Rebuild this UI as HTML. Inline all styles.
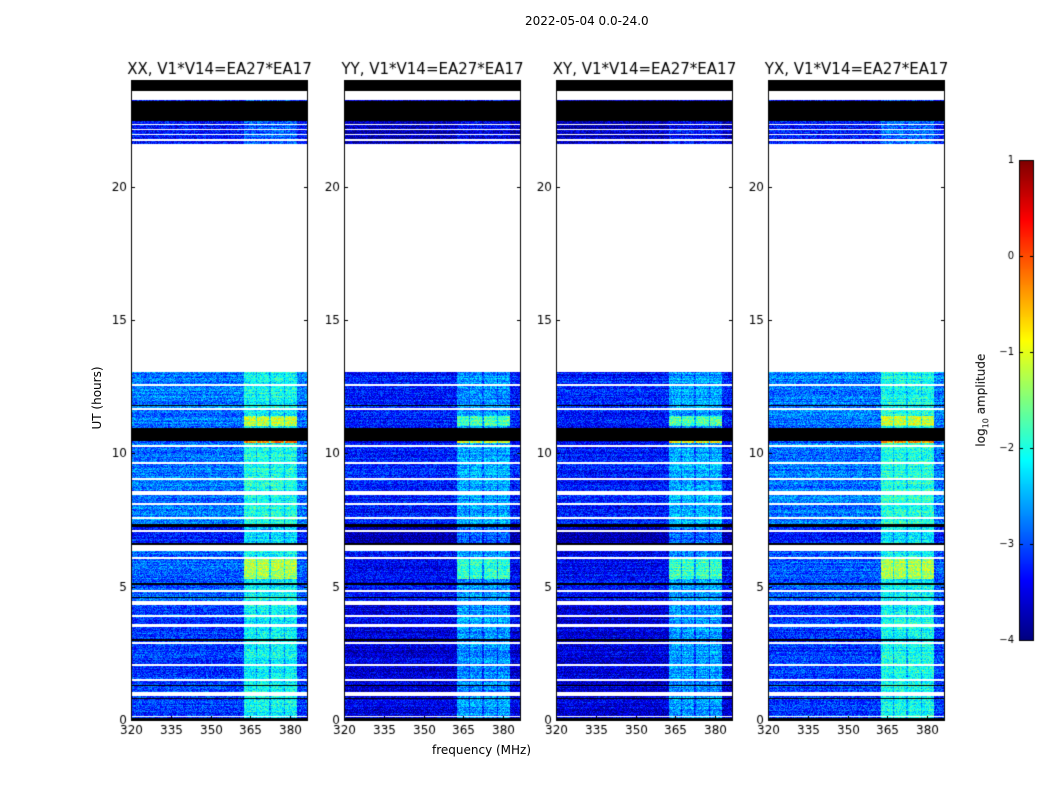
<!DOCTYPE html>
<html><head><meta charset="utf-8"><style>
body{margin:0;background:#fff;}
#wrap{position:relative;width:1050px;height:800px;overflow:hidden;font-family:"DejaVu Sans","Liberation Sans",sans-serif;color:#000;}
canvas{position:absolute;left:0;top:0;}
.t{position:absolute;white-space:nowrap;}
</style></head><body>
<div id="wrap">
<canvas id="c" width="1050" height="800"></canvas>
<div class="t" style="left:525px;top:14px;font-size:12px;">2022-05-04 0.0-24.0</div>
<div class="t" style="left:62px;top:391px;font-size:12px;transform:rotate(-90deg);width:70px;text-align:center;">UT (hours)</div>
<div class="t" style="left:432px;top:743px;font-size:12px;">frequency (MHz)</div>
<div class="t" style="left:932px;top:392px;font-size:12px;transform:rotate(-90deg);width:100px;text-align:center;">log<sub style="font-size:8px">10</sub> amplitude</div>
</div>
<script>
const panelTitles=["XX, V1*V14=EA27*EA17","YY, V1*V14=EA27*EA17","XY, V1*V14=EA27*EA17","YX, V1*V14=EA27*EA17"];
const panelLeft=[131,344,556,768];
const yTicks=[0,5,10,15,20];
const xTicks=[320,335,350,365,380];
const cbTicks=[1,0,-1,-2,-3,-4];
// flagged intervals (hours)
const whiteStart=[13.06,23.25,21.72,21.92,22.12,22.30,12.53,11.63,10.25,9.60,9.00,8.45,8.06,7.55,7.06,6.35,6.04,4.80,4.30,3.88,3.50,2.86,2.02,1.46,0.90,0.10];
const whiteEnd  =[21.60,23.60,21.78,21.98,22.18,22.36,12.61,11.70,10.31,9.67,9.07,8.60,8.13,7.62,7.13,6.55,6.11,4.87,4.45,3.94,3.60,2.93,2.09,1.53,1.05,0.15];
const blackStart=[23.60,22.45,10.47,11.77,7.24,6.57,5.07,4.58,2.97,1.27,0.78,0.00];
const blackEnd  =[24.00,23.20,10.96,11.83,7.36,6.63,5.12,4.62,3.03,1.33,0.83,0.08];
// level blocks (hours) : base level and band level
const blkStart=[0,4.45,5.3,6.6,7.3,10.38,10.96,11.03,11.4,21.6];
const blkEnd  =[4.3,6.6,6.1,7.3,10.38,10.47,11.03,11.4,13.06,23.6];
const blkBase =[-3.1,-2.9,-2.9,-3.3,-2.8,-3.0,-2.9,-2.8,-2.8,-3.3];
const blkBand =[-2.1,-2.1,-1.3,-2.3,-2.0,-0.3,-2.1,-1.2,-2.1,-2.9];
// per-panel offsets
const panelBaseOff=[0,-0.45,-0.45,0];
const panelBandOff=[0,-0.55,-0.5,0.05];
// channel bands (MHz)
const bandLo=[362.6,367.5,372.8,378.0];
const bandHi=[366.8,372.0,377.4,382.6];

const cv=document.getElementById('c'),ctx=cv.getContext('2d');
const W=177,H=640,TOP=80;
const hy=h=>TOP+H-h*H/24;
const fx=(l,f)=>l+(f-320)*2.65;
function jet(t){t=Math.max(0,Math.min(1,t));
 const r=Math.max(0,Math.min(1,1.5-Math.abs(4*t-3))),g=Math.max(0,Math.min(1,1.5-Math.abs(4*t-2))),b=Math.max(0,Math.min(1,1.5-Math.abs(4*t-1)));
 return [r*255|0,g*255|0,b*255|0];}
function hsh(a,b){let x=(a*374761393+b*668265263)|0;x=(x^(x>>>13))*1274126177|0;return ((x^(x>>>16))>>>0)/4294967296;}
function inI(h,s,e){for(let i=0;i<s.length;i++)if(h>=s[i]&&h<e[i])return true;return false;}
panelLeft.forEach((L,p)=>{
 const img=ctx.createImageData(W,H);
 for(let py=0;py<H;py++){
  const h=(H-py-0.5)*24/H;
  let mode='w',bi=-1;
  if(inI(h,blackStart,blackEnd))mode='k';
  else if(inI(h,whiteStart,whiteEnd))mode='w';
  else{for(let i=blkStart.length-1;i>=0;i--)if(h>=blkStart[i]&&h<blkEnd[i]){bi=i;break;}
   mode=bi>=0?'d':'w';}
  const rowN=(hsh(py,p*7+3)-0.5)*0.4;
  for(let px=0;px<W;px++){
   const k=(py*W+px)*4;let c;
   if(mode==='k')c=[0,0,0];else if(mode==='w')c=[255,255,255];
   else{const f=320+px/2.65;let inb=false;
    for(let j=0;j<bandLo.length;j++)if(f>=bandLo[j]&&f<bandHi[j])inb=true;
    let v=blkBase[bi]+panelBaseOff[p];
    if(f>=362.6&&f<382.6)v=inb?blkBand[bi]+panelBandOff[p]:(blkBand[bi]+blkBase[bi])/2+panelBandOff[p];
    v+=(hsh(px+p*1000,py)-0.5)*0.9+rowN;
    c=jet((v+4)/5);}
   img.data[k]=c[0];img.data[k+1]=c[1];img.data[k+2]=c[2];img.data[k+3]=255;}
 }
 ctx.putImageData(img,L,TOP);
 ctx.strokeStyle='#000';ctx.lineWidth=1;ctx.strokeRect(L+0.5,TOP+0.5,W-1,H);
 ctx.fillStyle='#000';ctx.font='12px "DejaVu Sans",sans-serif';
 ctx.textAlign='right';ctx.textBaseline='middle';
 yTicks.forEach(t=>{const y=Math.round(hy(t))+0.5;ctx.beginPath();ctx.moveTo(L,y);ctx.lineTo(L+4,y);ctx.moveTo(L+W,y);ctx.lineTo(L+W-4,y);ctx.stroke();ctx.fillText(String(t),L-4,y);});
 ctx.textAlign='center';ctx.textBaseline='top';
 xTicks.forEach(t=>{const x=Math.round(fx(L,t))+0.5;ctx.beginPath();ctx.moveTo(x,TOP+H);ctx.lineTo(x,TOP+H-4);ctx.moveTo(x,TOP);ctx.lineTo(x,TOP+4);ctx.stroke();ctx.fillText(String(t),x,TOP+H+5);});
 ctx.font='15px "DejaVu Sans",sans-serif';ctx.textBaseline='alphabetic';
 ctx.fillText(panelTitles[p],L+W/2,74);
});
// colorbar
const cbX=1019,cbW=15,cbT=160,cbB=640;
for(let y=cbT;y<cbB;y++){const c=jet(1-(y-cbT)/(cbB-cbT));ctx.fillStyle=`rgb(${c[0]},${c[1]},${c[2]})`;ctx.fillRect(cbX,y,cbW,1);}
ctx.strokeStyle='#000';ctx.strokeRect(cbX+0.5,cbT+0.5,cbW-1,cbB-cbT);
ctx.fillStyle='#000';ctx.font='10px "DejaVu Sans",sans-serif';ctx.textAlign='right';ctx.textBaseline='middle';
cbTicks.forEach(t=>{const y=Math.round(cbB-(t+4)*(cbB-cbT)/5)+0.5;ctx.beginPath();ctx.moveTo(cbX,y);ctx.lineTo(cbX+4,y);ctx.moveTo(cbX+cbW,y);ctx.lineTo(cbX+cbW-4,y);ctx.stroke();ctx.fillText(t<0?'\u2212'+(-t):String(t),cbX-5,y);});
</script>
</body></html>
